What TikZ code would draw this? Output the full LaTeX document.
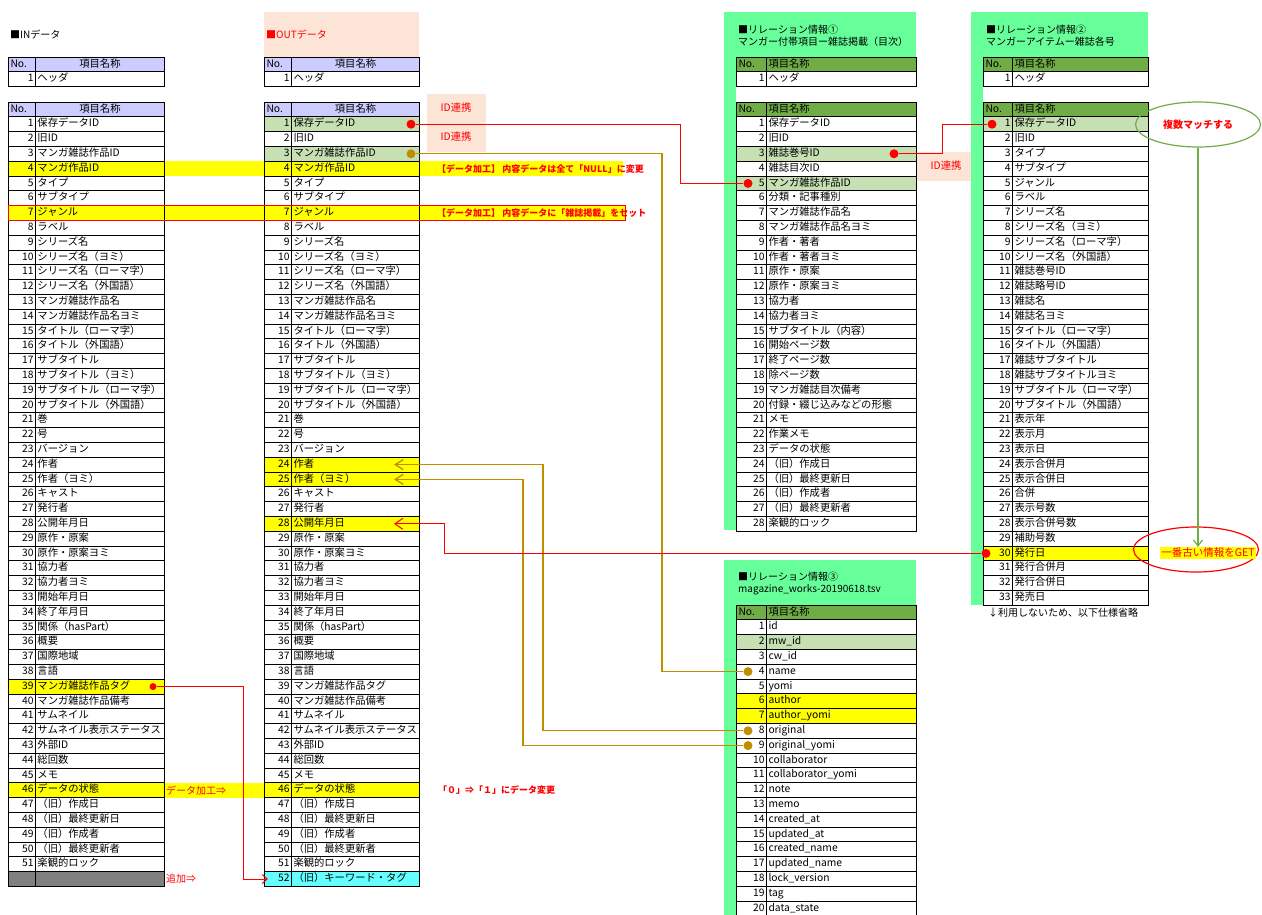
\documentclass[tikz,border=0pt]{standalone}
\usepackage{fontspec}
\setmainfont{Noto Sans CJK JP}
\usetikzlibrary{shapes.geometric,arrows.meta}
\definecolor{hdblue}{HTML}{CCCCFF}
\definecolor{hdgreen}{HTML}{70AD47}
\definecolor{idgreen}{HTML}{C6E0B4}
\definecolor{panelgreen}{HTML}{66FF99}
\definecolor{peach}{HTML}{FCE4D6}
\definecolor{hlyellow}{HTML}{FFFF00}
\definecolor{hlcyan}{HTML}{66FFFF}
\definecolor{rowgray}{HTML}{808080}
\definecolor{linkgold}{HTML}{BF8F00}
\definecolor{ringgreen}{HTML}{70AD47}
\newcommand{\rowh}{14.8}
\tikzstyle{cell}=[draw=black,line width=1pt,rectangle,anchor=west,inner xsep=2pt,inner ysep=0pt,
minimum height=14.8pt,text height=7.5pt,text depth=2.2pt,font=\fontsize{10.3}{12}\selectfont]
\tikzstyle{numcell}=[cell,align=right]
\tikzstyle{namecell}=[cell,align=left]
\tikzstyle{title}=[anchor=west,align=left,inner sep=0pt,font=\fontsize{10}{12}\selectfont]
\tikzstyle{memo}=[anchor=west,inner sep=0pt,text=red,font=\fontsize{9}{11}\selectfont\bfseries]
\tikzstyle{idbox}=[text=red,inner sep=0pt,font=\fontsize{10.3}{12}\selectfont]
\tikzstyle{reddot}=[circle,fill=red,inner sep=0pt,minimum size=9pt]
\tikzstyle{golddot}=[circle,fill=linkgold,inner sep=0pt,minimum size=9pt]
\tikzstyle{redlink}=[red,line width=1pt]
\tikzstyle{goldlink}=[linkgold,line width=1.3pt]
\tikzstyle{redarrow}=[redlink,-{Straight Barb[length=8pt,width=11pt]}]
\tikzstyle{goldarrow}=[goldlink,-{Straight Barb[length=8pt,width=10pt]}]
\tikzstyle{tagarrow}=[redlink,-{Straight Barb[length=5pt,width=9pt]}]
\tikzstyle{greenarrow}=[ringgreen,line width=1.2pt,-{Straight Barb[length=6pt,width=9pt]}]
\tikzstyle{ring}=[ellipse,line width=1.2pt,minimum width=125pt,minimum height=45pt]
% header row: prefix, x left, No. width, name width, y top, fill, align of name
\newcommand{\headrow}[7]{%
  \pgfmathsetmacro{\numtw}{#3-4}
  \pgfmathsetmacro{\nametw}{#4-4}
  \node[numcell,fill=#6,align=left,text width=\numtw pt] (#1hn) at (#2,{#5+0.5*\rowh}) {No.};
  \node[namecell,fill=#6,align=#7,text width=\nametw pt] (#1h) at (#2+#3,{#5+0.5*\rowh}) {項目名称};
}
% item rows: prefix, x left, No. width, name width, y top, names
\newcommand{\itemrows}[6]{%
  \pgfmathsetmacro{\numtw}{#3-4}
  \pgfmathsetmacro{\nametw}{#4-4}
  \foreach \itm [count=\i] in {#6}{
    \node[numcell,text width=\numtw pt] (#1n\i) at (#2,{#5+(\i+0.5)*\rowh}) {\i};
    \node[namecell,text width=\nametw pt] (#1\i) at (#2+#3,{#5+(\i+0.5)*\rowh}) {\itm};
  }}
% fill behind a row: colour, x from, x to, y top of table, row
\newcommand{\hlrow}[5]{%
  \fill[#1] (#2,{#4+#5*\rowh}) rectangle (#3,{#4+(#5+1)*\rowh});}
\begin{document}
\begin{tikzpicture}[x=1pt,y=-1pt]
\useasboundingbox (0,0) rectangle (1262,914);
\fill[white] (0,0) rectangle (1262,914);

% panels
\fill[peach] (264,12) rectangle (419,57);
\fill[peach] (427,94) rectangle (486,152);
\fill[peach] (917,152) rectangle (976,181);
\fill[panelgreen] (724,12) rectangle (916,530);
\fill[panelgreen] (971,12) rectangle (1148,605);
\fill[panelgreen] (724,560) rectangle (916,930);
\fill[white] (736,57) rectangle (916,531);
\fill[white] (983,57) rectangle (1148,605);
\fill[white] (736,605) rectangle (916,930);

% highlighted rows
\hlrow{hlyellow}{8}{623}{102}{4}
\hlrow{hlyellow}{8}{625}{102}{7}
\hlrow{hlyellow}{8}{164}{102}{39}
\hlrow{hlyellow}{8}{419}{102}{46}
\hlrow{rowgray}{8}{164}{102}{52}
\hlrow{idgreen}{264}{419}{102}{1}
\hlrow{idgreen}{264}{419}{102}{3}
\hlrow{hlyellow}{264}{419}{102}{24}
\hlrow{hlyellow}{264}{419}{102}{25}
\hlrow{hlyellow}{264}{419}{102}{28}
\hlrow{hlcyan}{264}{419}{102}{52}
\hlrow{idgreen}{736}{916}{102}{3}
\hlrow{idgreen}{736}{916}{102}{5}
\hlrow{idgreen}{983}{1148}{102}{1}
\hlrow{hlyellow}{983}{1148}{102}{30}
\hlrow{idgreen}{736}{916}{605}{2}
\hlrow{hlyellow}{736}{916}{605}{6}
\hlrow{hlyellow}{736}{916}{605}{7}

% titles
\node[title] (intitle) at (10,35) {■INデータ};
\node[title,text=red] (outtitle) at (266,35) {■OUTデータ};
\node[title] (mgztitle) at (738,36) {■リレーション情報①\\マンガー付帯項目ー雑誌掲載（目次）};
\node[title] (isstitle) at (986,36) {■リレーション情報②\\マンガーアイテムー雑誌各号};
\node[title] (tsvtitle) at (738,584) {■リレーション情報③\\magazine\_works-20190618.tsv};

% IN
\headrow{inx}{8}{27}{129}{57}{hdblue}{center}
\itemrows{inx}{8}{27}{129}{57}{ヘッダ}
\headrow{in}{8}{27}{129}{102}{hdblue}{center}
\itemrows{in}{8}{27}{129}{102}{保存データID, 旧ID, マンガ雑誌作品ID, マンガ作品ID, タイプ,
  サブタイプ, ジャンル, ラベル, シリーズ名, シリーズ名（ヨミ）, シリーズ名（ローマ字）,
  シリーズ名（外国語）, マンガ雑誌作品名, マンガ雑誌作品名ヨミ, タイトル（ローマ字）,
  タイトル（外国語）, サブタイトル, サブタイトル（ヨミ）, サブタイトル（ローマ字）,
  サブタイトル（外国語）, 巻, 号, バージョン, 作者, 作者（ヨミ）, キャスト, 発行者,
  公開年月日, 原作・原案, 原作・原案ヨミ, 協力者, 協力者ヨミ, 開始年月日, 終了年月日,
  関係（hasPart）, 概要, 国際地域, 言語, マンガ雑誌作品タグ, マンガ雑誌作品備考,
  サムネイル, サムネイル表示ステータス, 外部ID, 総回数, メモ, データの状態,
  （旧）作成日, （旧）最終更新日, （旧）作成者, （旧）最終更新者, 楽観的ロック}
\node[numcell,text width=23pt] (inn52) at (8,{102+52.5*\rowh}) {};
\node[namecell,text width=125pt] (in52) at (35,{102+52.5*\rowh}) {};

% OUT
\headrow{outx}{264}{27}{128}{57}{hdblue}{center}
\itemrows{outx}{264}{27}{128}{57}{ヘッダ}
\headrow{out}{264}{27}{128}{102}{hdblue}{center}
\itemrows{out}{264}{27}{128}{102}{保存データID, 旧ID, マンガ雑誌作品ID, マンガ作品ID, タイプ,
  サブタイプ, ジャンル, ラベル, シリーズ名, シリーズ名（ヨミ）, シリーズ名（ローマ字）,
  シリーズ名（外国語）, マンガ雑誌作品名, マンガ雑誌作品名ヨミ, タイトル（ローマ字）,
  タイトル（外国語）, サブタイトル, サブタイトル（ヨミ）, サブタイトル（ローマ字）,
  サブタイトル（外国語）, 巻, 号, バージョン, 作者, 作者（ヨミ）, キャスト, 発行者,
  公開年月日, 原作・原案, 原作・原案ヨミ, 協力者, 協力者ヨミ, 開始年月日, 終了年月日,
  関係（hasPart）, 概要, 国際地域, 言語, マンガ雑誌作品タグ, マンガ雑誌作品備考,
  サムネイル, サムネイル表示ステータス, 外部ID, 総回数, メモ, データの状態,
  （旧）作成日, （旧）最終更新日, （旧）作成者, （旧）最終更新者, 楽観的ロック,
  （旧）キーワード・タグ}

% relation 1
\headrow{mgzx}{736}{30}{150}{57}{hdgreen}{left}
\itemrows{mgzx}{736}{30}{150}{57}{ヘッダ}
\headrow{mgz}{736}{30}{150}{102}{hdgreen}{left}
\itemrows{mgz}{736}{30}{150}{102}{保存データID, 旧ID, 雑誌巻号ID, 雑誌目次ID, マンガ雑誌作品ID,
  分類・記事種別, マンガ雑誌作品名, マンガ雑誌作品名ヨミ, 作者・著者, 作者・著者ヨミ,
  原作・原案, 原作・原案ヨミ, 協力者, 協力者ヨミ, サブタイトル（内容）, 開始ページ数,
  終了ページ数, 除ページ数, マンガ雑誌目次備考, 付録・綴じ込みなどの形態, メモ, 作業メモ,
  データの状態, （旧）作成日, （旧）最終更新日, （旧）作成者, （旧）最終更新者, 楽観的ロック}

% relation 2
\headrow{issx}{983}{29}{136}{57}{hdgreen}{left}
\itemrows{issx}{983}{29}{136}{57}{ヘッダ}
\headrow{iss}{983}{29}{136}{102}{hdgreen}{left}
\itemrows{iss}{983}{29}{136}{102}{保存データID, 旧ID, タイプ, サブタイプ, ジャンル, ラベル,
  シリーズ名, シリーズ名（ヨミ）, シリーズ名（ローマ字）, シリーズ名（外国語）, 雑誌巻号ID,
  雑誌略号ID, 雑誌名, 雑誌名ヨミ, タイトル（ローマ字）, タイトル（外国語）, 雑誌サブタイトル,
  雑誌サブタイトルヨミ, サブタイトル（ローマ字）, サブタイトル（外国語）, 表示年, 表示月,
  表示日, 表示合併月, 表示合併日, 合併, 表示号数, 表示合併号数, 補助号数, 発行日,
  発行合併月, 発行合併日, 発売日}
\node[title] (skipnote) at (988,612.5) {↓利用しないため、以下仕様省略};

% relation 3
\headrow{tsv}{736}{30}{150}{605}{hdgreen}{left}
\itemrows{tsv}{736}{30}{150}{605}{id, mw\_id, cw\_id, name, yomi, author, author\_yomi, original,
  original\_yomi, collaborator, collaborator\_yomi, note, memo, created\_at, updated\_at,
  created\_name, updated\_name, lock\_version, tag, data\_state}

\draw[red,line width=1pt] (8,{102+7*\rowh}) rectangle (625,{102+8*\rowh});

% notes
\node[idbox] (idnote1) at (456,108) {ID連携};
\node[idbox] (idnote2) at (456,137) {ID連携};
\node[idbox] (idnote3) at (946,166) {ID連携};
\node[memo] (nullnote) at (437,{102+4.5*\rowh}) {【データ加工】\ 内容データは全て「NULL」に変更};
\node[memo] (genrenote) at (437,{102+7.5*\rowh}) {【データ加工】\ 内容データに「雑誌掲載」をセット};
\node[memo] (statenote) at (438,{102+46.5*\rowh}) {「０」⇒「１」にデータ変更};
\node[title,text=red] (procnote) at (166,{102+46.5*\rowh}) {データ加工⇒};
\node[title,text=red] (addnote) at (166,{102+52.5*\rowh}) {追加⇒};

\node[ring,draw=ringgreen,text=red,font=\fontsize{10}{12}\selectfont\bfseries] (multi) at (1198,124.5) {複数マッチする};
\node[ring,draw=red] (oldring) at (1196,549.5) {};
\node[fill=hlyellow,text=red,inner sep=1pt,font=\fontsize{10.5}{12}\selectfont] (oldest) at (1208,553) {一番古い情報をGET};

% link points
\node[reddot] (dotout1) at ([xshift=-9pt]out1.east) {};
\node[golddot] (dotout3) at ([xshift=-9pt]out3.east) {};
\node[reddot] (dotmgz3) at ([xshift=-23pt]mgz3.east) {};
\node[reddot] (dotmgz5) at ([xshift=12pt]mgzn5.west) {};
\node[reddot] (dotiss1) at ([xshift=9pt]issn1.west) {};
\node[reddot] (dotiss30) at ([xshift=3pt]issn30.west) {};
\node[golddot] (dottsv4) at ([xshift=12pt]tsvn4.west) {};
\node[golddot] (dottsv8) at ([xshift=12pt]tsvn8.west) {};
\node[golddot] (dottsv9) at ([xshift=12pt]tsvn9.west) {};
\node[reddot,minimum size=7pt] (dotin39) at ([xshift=-12pt]in39.east) {};

\coordinate (bendid) at (680,0);
\coordinate (bendiss) at (942,0);
\coordinate (bendname) at (662,0);
\coordinate (bendauth) at (543,0);
\coordinate (bendyomi) at (523,0);
\coordinate (bendpub) at (444,0);
\coordinate (bendtag) at (243,0);
\coordinate (tipauth) at ([xshift=-26pt]out24.east);
\coordinate (tipyomi) at ([xshift=-26pt]out25.east);
\coordinate (tippub) at ([xshift=-26pt]out28.east);
\coordinate (tiptag) at ([xshift=4pt]outn52.west);

\draw [redlink] (dotout1) -- (dotout1 -| bendid) |- (dotmgz5);
\draw [redlink] (dotmgz3) -- (dotmgz3 -| bendiss) |- (dotiss1);
\draw [goldlink] (dotout3) -- (dotout3 -| bendname) |- (dottsv4);
\draw [goldarrow] (dottsv8) -- (dottsv8 -| bendauth) |- (tipauth);
\draw [goldarrow] (dottsv9) -- (dottsv9 -| bendyomi) |- (tipyomi);
\draw [redarrow] (dotiss30) -- (dotiss30 -| bendpub) |- (tippub);
\draw [tagarrow] (dotin39) -- (dotin39 -| bendtag) |- (tiptag);
\draw [greenarrow] (multi) -- (multi |- oldest.north);

\end{tikzpicture}
\end{document}
